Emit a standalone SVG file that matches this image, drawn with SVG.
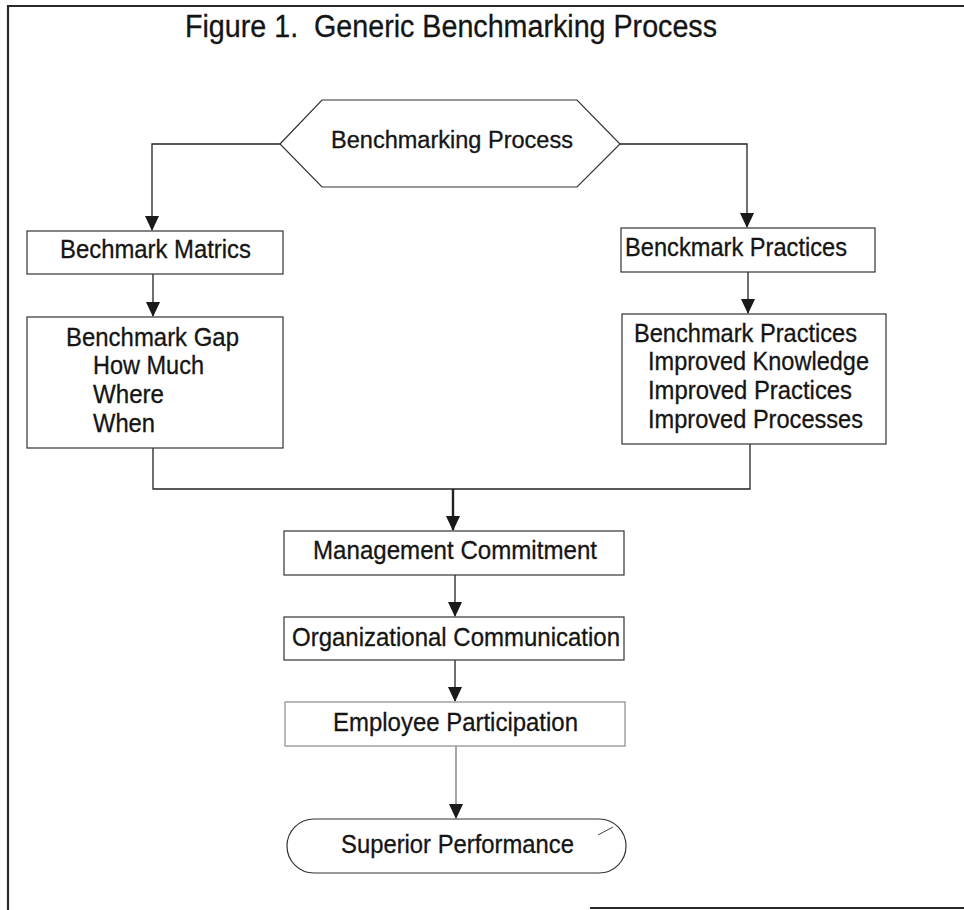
<svg xmlns="http://www.w3.org/2000/svg" width="964" height="910" viewBox="0 0 964 910">
<style>
text{font-family:"Liberation Sans",Arial,sans-serif;font-size:26px;fill:#151515;stroke:#151515;stroke-width:0.3}
.box{fill:#fff;stroke:#333;stroke-width:1.2}
.faint{fill:#fff;stroke:#8a8a8a;stroke-width:1.2}
.con{fill:none;stroke:#222;stroke-width:1.3}
.frame{fill:none;stroke:#2a2a2a;stroke-width:2.2}
</style>
<defs>
<marker id="ah" markerUnits="userSpaceOnUse" markerWidth="16" markerHeight="14" viewBox="0 0 16 14" refX="14" refY="7" orient="auto">
<path d="M0,0 L15,7 L0,14 Z" fill="#1a1a1a"/>
</marker>
</defs>
<rect width="964" height="910" fill="#fff"/>
<g id="frame">
<path class="frame" d="M8,910 L8,6 L964,6"/>
<path class="frame" d="M590,908 L964,908" stroke="#555"/>
</g>
<text id="title" x="185" y="37" xml:space="preserve" style="font-size:31px" textLength="532" lengthAdjust="spacingAndGlyphs">Figure 1.  Generic Benchmarking Process</text>
<g id="connectors">
<path class="con" d="M280,144 L152,144 L152,230" marker-end="url(#ah)"/>
<path class="con" d="M620,144 L747,144 L747,227" marker-end="url(#ah)"/>
<path class="con" d="M153,274 L153,316" marker-end="url(#ah)"/>
<path class="con" d="M748,272 L748,313" marker-end="url(#ah)"/>
<path class="con" d="M153,448 L153,489 L750,489 L750,444"/>
<path class="con" d="M453,489 L453,530" style="stroke-width:2.4" marker-end="url(#ah)"/>
<path class="con" d="M455,575 L455,616" marker-end="url(#ah)"/>
<path class="con" d="M455,660 L455,701" marker-end="url(#ah)"/>
<path class="con" d="M456,746 L456,818" style="stroke:#777" marker-end="url(#ah)"/>
</g>
<g id="benchmarking-process">
<polygon class="box" points="280,144 322,100 577,100 620,144 577,187 322,187"/>
<text x="331" y="148" textLength="242" lengthAdjust="spacingAndGlyphs" style="font-size:23px">Benchmarking Process</text>
</g>
<g id="bechmark-matrics">
<rect class="box" x="27" y="231" width="256" height="43"/>
<text x="60" y="258" textLength="191" lengthAdjust="spacingAndGlyphs">Bechmark Matrics</text>
</g>
<g id="benchmark-gap">
<rect class="box" x="27" y="317" width="256" height="131"/>
<text x="66" y="346" textLength="173" lengthAdjust="spacingAndGlyphs">Benchmark Gap</text>
<text x="93" y="374" textLength="111" lengthAdjust="spacingAndGlyphs">How Much</text>
<text x="93" y="403" textLength="71" lengthAdjust="spacingAndGlyphs">Where</text>
<text x="93" y="432" textLength="62" lengthAdjust="spacingAndGlyphs">When</text>
</g>
<g id="benckmark-practices">
<rect class="box" x="621" y="228" width="254" height="44"/>
<text x="625" y="256" textLength="222" lengthAdjust="spacingAndGlyphs">Benckmark Practices</text>
</g>
<g id="benchmark-practices">
<rect class="box" x="622" y="314" width="264" height="130"/>
<text x="634" y="342" textLength="223" lengthAdjust="spacingAndGlyphs">Benchmark Practices</text>
<text x="648" y="370" textLength="221" lengthAdjust="spacingAndGlyphs">Improved Knowledge</text>
<text x="648" y="399" textLength="204" lengthAdjust="spacingAndGlyphs">Improved Practices</text>
<text x="648" y="428" textLength="215" lengthAdjust="spacingAndGlyphs">Improved Processes</text>
</g>
<g id="management-commitment">
<rect class="box" x="284" y="531" width="340" height="44"/>
<text x="313" y="559" textLength="284" lengthAdjust="spacingAndGlyphs">Management Commitment</text>
</g>
<g id="organizational-communication">
<rect class="box" x="284" y="617" width="340" height="43"/>
<text x="292" y="646" textLength="328" lengthAdjust="spacingAndGlyphs">Organizational Communication</text>
</g>
<g id="employee-participation">
<rect class="faint" x="285" y="702" width="340" height="44"/>
<text x="333" y="731" textLength="245" lengthAdjust="spacingAndGlyphs">Employee Participation</text>
</g>
<g id="superior-performance">
<rect class="box" x="287" y="819" width="339" height="54" rx="27" ry="27"/>
<text x="341" y="853" textLength="233" lengthAdjust="spacingAndGlyphs">Superior Performance</text>
<path d="M598,835 L613,827" stroke="#444" stroke-width="1" fill="none"/>
</g>
</svg>
